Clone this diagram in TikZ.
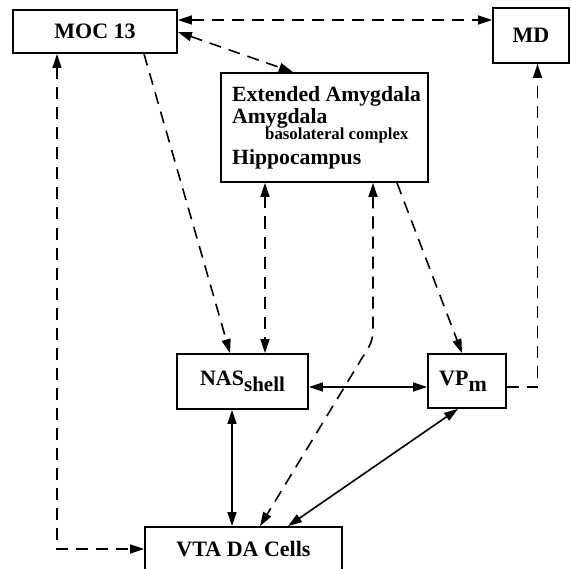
\documentclass[tikz,border=0pt]{standalone}
\usepackage{fontspec}
\setmainfont{Liberation Serif}
\usetikzlibrary{arrows.meta,calc}
\begin{document}
\begin{tikzpicture}[x=1pt,y=-1pt,
  box/.style={draw, line width=1.8pt, rectangle, inner sep=0pt, font=\bfseries\fontsize{22}{24}\selectfont},
  lbl/.style={anchor=base west, inner sep=0pt, font=\bfseries\fontsize{21.7}{24}\selectfont},
  sublbl/.style={anchor=base west, inner sep=0pt, font=\bfseries\fontsize{16.8}{18}\selectfont},
  dsh/.style={line width=1.6pt, dash pattern=on 12pt off 8pt},
  sol/.style={line width=1.6pt},
  both/.style={{Triangle[length=14pt,width=9pt]}-{Triangle[length=14pt,width=9pt]}},
  one/.style={-{Triangle[length=14pt,width=9pt]}}
]
\useasboundingbox (0,0) rectangle (572,569);
% boxes
\node[box, minimum width=164pt, minimum height=43pt] (moc) at (95,31.5) {MOC 13};
\node[box, minimum width=76pt, minimum height=55pt] (md) at (531,35.5) {MD};
\node[box, minimum width=207pt, minimum height=109pt] (amy) at (324.5,127.5) {};
\node[lbl] (t1) at (232,102) {Extended Amygdala};
\node[lbl] (t2) at (232,124) {Amygdala};
\node[sublbl] (t3) at (265,140) {basolateral complex};
\node[lbl] (t4) at (232,165) {Hippocampus};
\node[box, minimum width=131pt, minimum height=55pt] (nas) at (242.5,381.5) {NAS\raisebox{-6pt}{\fontsize{21}{22}\selectfont shell}};
\node[box, minimum width=78pt, minimum height=54pt] (vp) at (467,381) {\hspace{-8pt}VP\raisebox{-6pt}{\fontsize{22}{22}\selectfont m}};
\node[box, minimum width=197pt, minimum height=46pt] (vta) at (243.5,550) {\raisebox{2pt}{VTA DA Cells}};
\coordinate (bend) at (373,340);
% dashed connectors
\draw[dsh, both] ([yshift=11.5pt]moc.east) -- ([yshift=15.5pt]md.west);
\draw[dsh, both] ([yshift=-0.5pt]moc.east) -- ([xshift=-31.5pt]amy.north);
\draw[dsh, one] ([xshift=49pt]moc.south) -- ([xshift=-12.5pt]nas.north);
\draw[dsh, both] ([xshift=-59.5pt]amy.south) -- ([xshift=22.5pt]nas.north);
\draw[dsh, both, rounded corners=8pt] ([xshift=48.5pt]amy.south) -- (bend) -- ([xshift=16.5pt]vta.north);
\draw[dsh, one] ([xshift=72.5pt]amy.south) -- ([xshift=-5pt]vp.north);
\draw[dsh, one] ([yshift=-6pt]vp.east) -| ([xshift=6.5pt]md.south);
\draw[dsh, both] ([xshift=-38pt]moc.south) |- ([yshift=1pt]vta.west);
% solid connectors
\draw[sol, both] ([yshift=-5.5pt]nas.east) -- ([yshift=-6pt]vp.west);
\draw[sol, both] ([xshift=-10.5pt]nas.south) -- ([xshift=-11.5pt]vta.north);
\draw[sol, both] ([xshift=-9pt]vp.south) -- ([xshift=44.5pt]vta.north);
\end{tikzpicture}
\end{document}
